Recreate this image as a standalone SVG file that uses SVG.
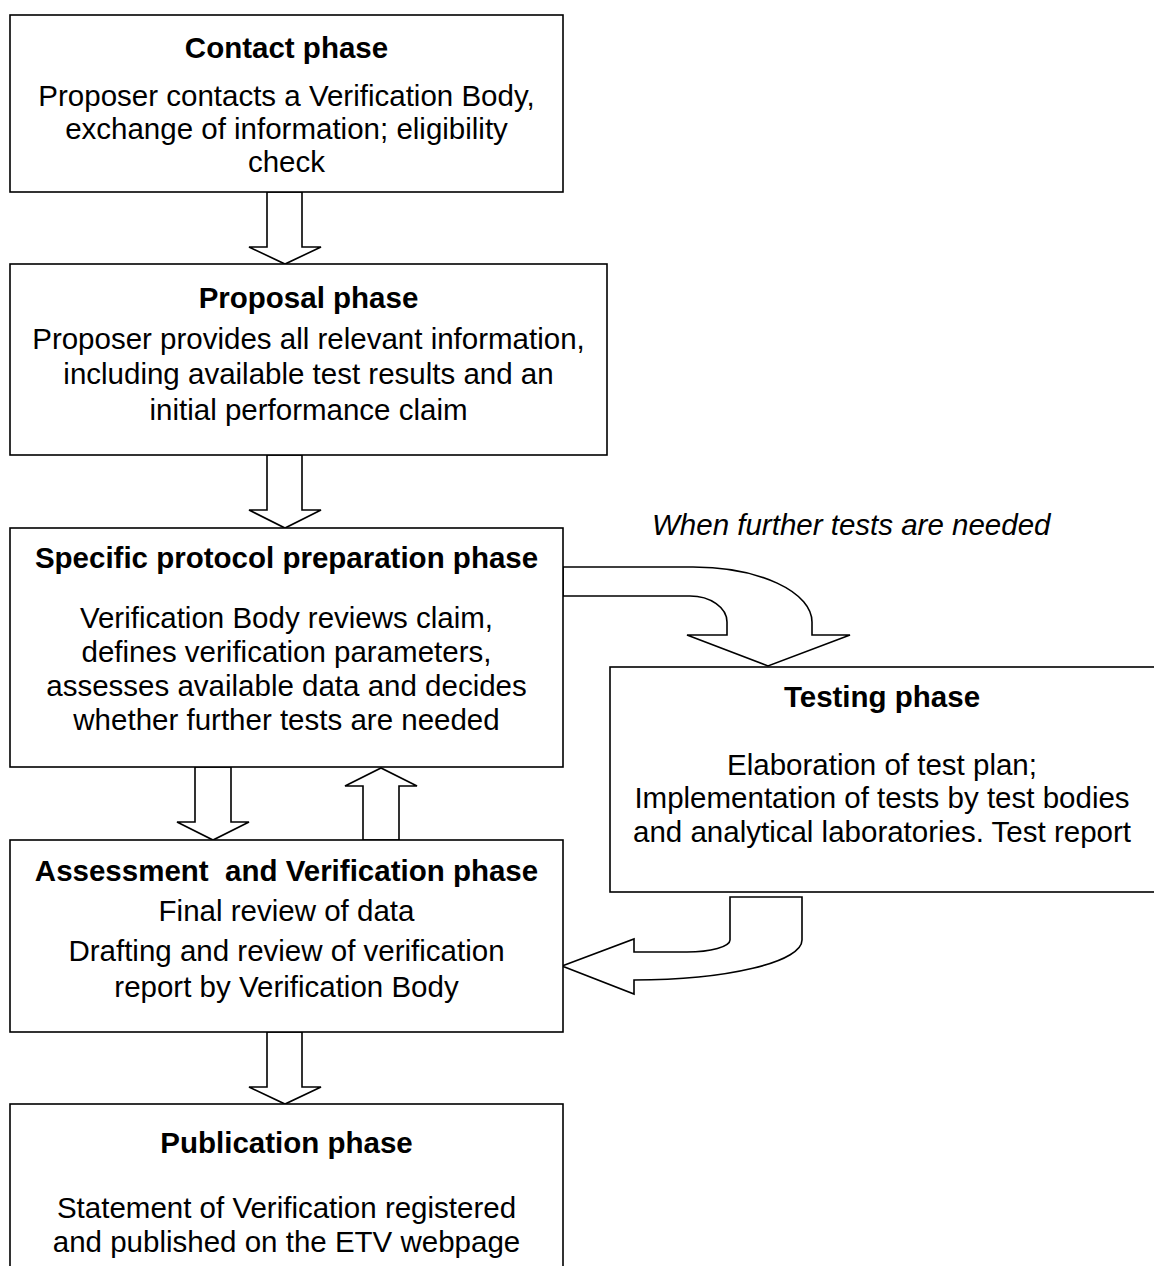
<svg xmlns="http://www.w3.org/2000/svg" width="1154" height="1266" viewBox="0 0 1154 1266">
<style>
.box{fill:#fff;stroke:#000;stroke-width:1.6}
.arr{fill:#fff;stroke:#000;stroke-width:1.6;stroke-linejoin:miter}
text{font-family:"Liberation Sans",Arial,sans-serif;font-size:29.5px;fill:#000;text-anchor:middle}
.t{font-weight:bold}
.lbl{font-style:italic;text-anchor:start}
</style>
<rect width="1154" height="1266" fill="#fff"/>
<g id="connectors">
<polygon class="arr" points="267,192 302,192 302,247 321,247 285,264 249,247 267,247"/>
<polygon class="arr" points="267,455 302,455 302,510 321,510 285,528 249,510 267,510"/>
<polygon class="arr" points="195,767 231,767 231,822 249,822 213,840 177,822 195,822"/>
<polygon class="arr" points="363,840 399,840 399,786 417,786 381,768 345,786 363,786"/>
<polygon class="arr" points="267,1032 302,1032 302,1087 321,1087 285,1104 249,1087 267,1087"/>
<path class="arr" d="M563,567 H693 A119,55 0 0 1 812,622 V635 H850 L768,666 L687,635 H727 V622 A37,26 0 0 0 690,596 H563 Z"/>
<path class="arr" d="M730,897 H802 V940 A168,40 0 0 1 634,980 V994 L562,966 L634,939 V952 H687 A43,12 0 0 0 730,940 Z"/>
<text class="lbl" x="652" y="535">When further tests are needed</text>
</g>
<g id="contact">
<rect class="box" x="10" y="15" width="553" height="177"/>
<text class="t" x="286.5" y="58">Contact phase</text>
<text x="286.5" y="106">Proposer contacts a Verification Body,</text>
<text x="286.5" y="139">exchange of information; eligibility</text>
<text x="286.5" y="172">check</text>
</g>
<g id="proposal">
<rect class="box" x="10" y="264" width="597" height="191"/>
<text class="t" x="308.5" y="308">Proposal phase</text>
<text x="308.5" y="349">Proposer provides all relevant information,</text>
<text x="308.5" y="384">including available test results and an</text>
<text x="308.5" y="420">initial performance claim</text>
</g>
<g id="specific">
<rect class="box" x="10" y="528" width="553" height="239"/>
<text class="t" x="286.5" y="568">Specific protocol preparation phase</text>
<text x="286.5" y="628">Verification Body reviews claim,</text>
<text x="286.5" y="662">defines verification parameters,</text>
<text x="286.5" y="696">assesses available data and decides</text>
<text x="286.5" y="730">whether further tests are needed</text>
</g>
<g id="testing">
<rect class="box" x="610" y="667" width="550" height="225"/>
<text class="t" x="882" y="707">Testing phase</text>
<text x="882" y="775">Elaboration of test plan;</text>
<text x="882" y="808">Implementation of tests by test bodies</text>
<text x="882" y="842">and analytical laboratories. Test report</text>
</g>
<g id="assessment">
<rect class="box" x="10" y="840" width="553" height="192"/>
<text class="t" x="286.5" y="881" xml:space="preserve">Assessment  and Verification phase</text>
<text x="286.5" y="921">Final review of data</text>
<text x="286.5" y="961">Drafting and review of verification</text>
<text x="286.5" y="997">report by Verification Body</text>
</g>
<g id="publication">
<rect class="box" x="10" y="1104" width="553" height="175"/>
<text class="t" x="286.5" y="1153">Publication phase</text>
<text x="286.5" y="1218">Statement of Verification registered</text>
<text x="286.5" y="1252">and published on the ETV webpage</text>
</g>
</svg>
